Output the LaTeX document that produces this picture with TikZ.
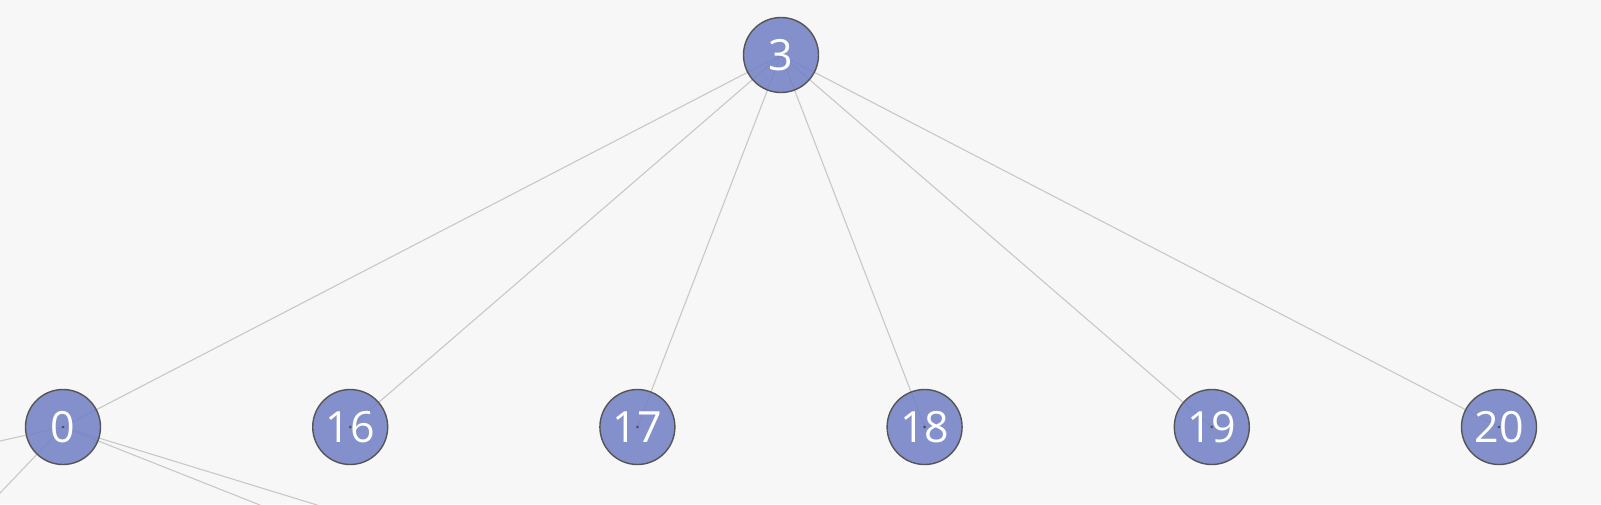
\documentclass[tikz,border=0pt]{standalone}
\usepackage{fontspec}
\setmainfont{Open Sans}
\usetikzlibrary{positioning}

\definecolor{bgcol}{HTML}{F7F7F7}
\definecolor{nodefill}{HTML}{7080C6}
\definecolor{nodeline}{HTML}{555555}
\definecolor{edgecol}{HTML}{C8C8C8}

\pgfdeclarelayer{edges}
\pgfsetlayers{edges,main}

\begin{document}
\begin{tikzpicture}[x=1pt, y=1pt,
		vertex/.style={circle, draw=nodeline, line width=1.4pt, fill=nodefill, fill opacity=0.86,
        text opacity=1, text=white, minimum size=75pt, inner sep=0pt,
        font=\fontsize{43}{43}\selectfont},
    link/.style={draw=edgecol, line width=1.1pt},
    level distance=372pt, sibling distance=287.2pt,
    edge from parent/.style={draw=none}
]

\useasboundingbox (0,-504) rectangle (1601,0);
\clip (0,-504) rectangle (1601,0);

\node [vertex] (Root) at (781,-55) {3}
	child { node [vertex] (n0) {0} }
	child { node [vertex] (n16) {16} }
	child { node [vertex] (n17) {17} }
	child { node [vertex] (n18) {18} }
	child { node [vertex] (n19) {19} }
	child { node [vertex] (n20) {20} }
;

% edges of node 0 that leave the picture
\coordinate (outW) at (-10,-443.2);
\coordinate (outSW) at (-10,-503.5);
\coordinate (outS1) at (270,-509);
\coordinate (outS2) at (330,-509);

\begin{pgfonlayer}{edges}
	\fill [bgcol] (0,-504) rectangle (1601,0);
	\foreach \n in {n0,n16,n17,n18,n19,n20}
		\draw [link] (Root.center) -- (\n.center);
	\foreach \o in {outW,outSW,outS1,outS2}
		\draw [link] (n0.center) -- (\o);
\end{pgfonlayer}

% small marks at the centres
\foreach \n in {n0,n16,n17,n18,n19,n20}
	\fill [black!70] (\n.center) circle (1.4pt);

\end{tikzpicture}
\end{document}
